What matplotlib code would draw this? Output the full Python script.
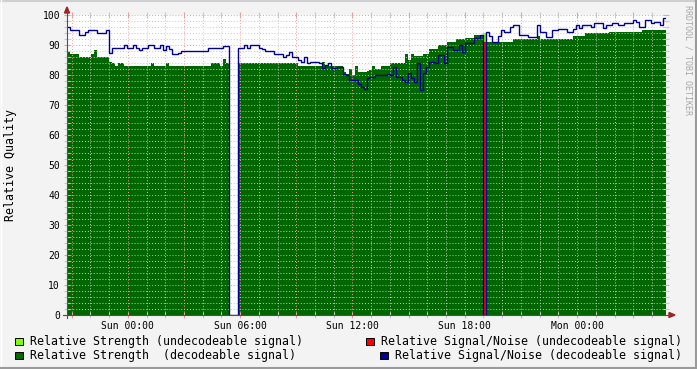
import numpy as np
import matplotlib
matplotlib.use("Agg")
import matplotlib.pyplot as plt
from matplotlib.patches import Rectangle, Polygon
from matplotlib.lines import Line2D

# samples every 0.16 h (9.6 min), first one Sat 20:45 (hours relative to Sun 00:00)
start_hour = -3.25
step_hours = 0.16

strength = [
    88, 87, 87, 87, 86, 86, 86, 86, 87, 88.5,
    86, 86, 86, 86, 84.5, 84, 83, 84, 84, 83,
    83, 83, 83, 83, 83, 83, 83, 83, 84, 83,
    83, 83, 83, 84, 83, 83, 83, 83, 83, 83,
    83, 83, 83, 83, 83, 83, 83, 83, 84, 84,
    84, 83, 85.5, 84, 0, 0, 0, 84, 84, 84,
    84, 84, 84, 84, 84, 84, 84, 84, 84, 84,
    84, 84, 84, 84, 84, 84, 84, 83, 83, 83,
    83, 83, 83, 83, 83, 84.5, 83, 83, 83, 83,
    83, 83, 81, 80.5, 82, 80, 83, 81, 81, 81,
    81.5, 81.7, 83, 82, 82, 83, 83, 83, 84, 84,
    84, 84, 84, 87, 85, 87, 86.5, 86.5, 86.5, 87,
    87, 88.6, 88.6, 88.6, 90, 90, 90, 91, 91, 91,
    92, 92, 92, 92.5, 92.5, 92.5, 93.5, 93.5, 93.5, 93.5,
    91, 91, 90.6, 90.6, 91, 91, 91, 91, 91, 92,
    92, 92, 92, 92, 92, 92, 92, 93, 92, 92,
    92, 92, 92, 92, 92, 92, 92, 92, 92, 93,
    93, 93, 93, 94, 94, 94, 94, 94, 94, 94,
    94, 94.5, 94.5, 94.5, 94.5, 94.5, 94.5, 94.5, 94.5, 94.5,
    94.5, 94.5, 95, 95, 95, 95, 95, 95, 95, 95,
]

snr = [
    96, 95, 95, 95, 93.5, 93.5, 94.5, 95, 95, 95,
    94, 94, 94, 95, 87.5, 89, 89, 89, 89, 90,
    89, 89, 90, 89, 88.5, 89, 89, 90, 90, 89,
    89, 90, 88.5, 89.7, 88.6, 87, 87, 87.4, 88, 88,
    88, 88, 88, 88, 88, 88, 88, 89, 89, 89,
    89, 89, 89.8, 89.8, 0, 0, 0, 89, 89, 90,
    89, 90, 90, 90, 89, 88.7, 88, 88, 88, 87,
    87, 87, 86, 86.7, 87.8, 86, 86, 85, 84.5, 86,
    84, 84.2, 84.2, 84.2, 84, 82.5, 83.5, 84, 82.5, 82.5,
    82.8, 82.8, 80.5, 80, 78.5, 78.3, 78.3, 77, 76, 75.5,
    79, 79.4, 79.4, 80, 80, 80, 80, 80.5, 80, 82.8,
    79.4, 79.4, 78.5, 77.8, 80.6, 79, 77.8, 84, 75, 80.6,
    82.8, 84.4, 84.4, 84, 86.7, 86.7, 84, 89.4, 89.4, 88.3,
    88.3, 90, 87.8, 90.6, 90.6, 90.6, 92.2, 92.2, 93.3, 0,
    94.4, 93, 91, 91, 93, 95, 94.5, 94.5, 96, 96.7,
    96.7, 93.3, 93.3, 93.3, 92.8, 92.8, 92.8, 96.7, 94.5, 94.5,
    92.8, 92.8, 95, 95, 95.3, 95.3, 95.3, 94.4, 94.4, 95.5,
    96.7, 95.6, 96.7, 96.7, 96.7, 96.1, 97.2, 97.2, 97.2, 95.6,
    96.7, 96.7, 97.2, 97.2, 96.7, 96.7, 97.2, 97.2, 97.2, 98.3,
    97.8, 96.1, 96.1, 98.3, 98.3, 97.2, 97.8, 97.8, 96.7, 98.9,
]

# the one undecodeable sample
weak_hours = [18.99]
weak_strength = [94]
weak_snr = [91]

tick_hours = [0, 6, 12, 18, 24]
tick_labels = ['Sun 00:00', 'Sun 06:00', 'Sun 12:00', 'Sun 18:00', 'Mon 00:00']

W, H = 697, 369
MONO = 'DejaVu Sans Mono'
C_STRONG = '#006600'
C_WEAK = '#80ff00'
C_SNR = '#000090'
C_SNR_WEAK = '#ff0000'
C_MAJOR = '#e8a0a0'
C_MINOR = '#c8c8c8'


def fx(px):
    return px / W


def fy(py):
    return 1 - py / H


fig = plt.figure(figsize=(W / 100, H / 100), dpi=100, facecolor='#f3f3f3')
ax = fig.add_axes([fx(67), fy(315), (666 - 67) / W, 300 / H])
ax.set_facecolor('white')

edges = start_hour + step_hours * np.arange(len(strength) + 1)
end_hour = edges[-1]

ax.stairs(strength, edges, fill=True, color=C_STRONG, baseline=0, lw=0, zorder=2)
ax.bar(weak_hours, weak_strength, width=step_hours, align='edge',
       color=C_WEAK, lw=0, zorder=2)
ax.bar([h + step_hours / 2 for h in weak_hours], weak_snr, width=0.1,
       color=C_SNR_WEAK, lw=0, zorder=3)
ax.stairs(snr, edges, baseline=None, color=C_SNR, lw=1.0, zorder=5)

ax.set_xlim(start_hour, end_hour)
ax.set_ylim(0, 100)

major_x = np.arange(-3, 29, 3)
ax.set_xticks(major_x)
ax.set_xticklabels([tick_labels[tick_hours.index(h)] if h in tick_hours else ''
                    for h in major_x])
ax.set_xticks(np.arange(-3, 29, 1), minor=True)
ax.set_yticks(np.arange(0, 101, 10))
ax.set_yticks(np.arange(0, 101, 2), minor=True)

for lab in ax.get_xticklabels() + ax.get_yticklabels():
    lab.set_family(MONO)
    lab.set_fontsize(7)

ax.grid(True, which='minor', color=C_MINOR, lw=0.7, linestyle=(0, (1, 2)), zorder=4)
ax.grid(True, which='major', color=C_MAJOR, lw=0.7, linestyle=(0, (1, 2)), zorder=4)
ax.set_axisbelow(False)

ax.tick_params(which='both', direction='inout', top=True, right=True,
               labeltop=False, labelright=False)
ax.tick_params(which='major', length=4, width=0.8, color=C_MAJOR, pad=3)
ax.tick_params(which='minor', length=4, width=0.8, color=C_MINOR)
ax.tick_params(axis='x', which='major', pad=2)

for s in ax.spines.values():
    s.set_visible(False)

# axes with arrows, rrdtool style
fig.add_artist(Line2D([fx(67), fx(67)], [fy(318), fy(10)], color='#505050', lw=0.8))
fig.add_artist(Line2D([fx(63), fx(670)], [fy(315), fy(315)], color='#505050', lw=0.8))
fig.add_artist(Polygon([(fx(64.5), fy(13)), (fx(69.5), fy(13)), (fx(67), fy(7))],
                       closed=True, transform=fig.transFigure, color='#a02020'))
fig.add_artist(Polygon([(fx(669), fy(312.5)), (fx(669), fy(317.5)), (fx(675), fy(315))],
                       closed=True, transform=fig.transFigure, color='#a02020'))

fig.text(fx(11), fy(165), 'Relative Quality', rotation=90, ha='center', va='center',
         family=MONO, fontsize=8.4)
fig.text(fx(688), fy(60), 'RRDTOOL / TOBI OETIKER', rotation=-90, ha='center',
         va='center', family=MONO, fontsize=6, color='#a8a8a8')

legend = [
    (15, 341, C_WEAK, 'Relative Strength (undecodeable signal)'),
    (15, 355, C_STRONG, 'Relative Strength  (decodeable signal)'),
    (366, 341, C_SNR_WEAK, 'Relative Signal/Noise (undecodeable signal)'),
    (380, 355, C_SNR, 'Relative Signal/Noise (decodeable signal)'),
]
for x0, yc, col, txt in legend:
    fig.add_artist(Rectangle((fx(x0), fy(yc + 4)), 7.5 / W, 7.5 / H, transform=fig.transFigure,
                             facecolor=col, edgecolor='black', lw=0.7))
    fig.text(fx(x0 + 15), fy(yc), txt, ha='left', va='center', family=MONO, fontsize=8.4)

# frame shading
fig.add_artist(Line2D([0, 1], [fy(1), fy(1)], color='#cfcfcf', lw=1.5))
fig.add_artist(Line2D([fx(1), fx(1)], [0, 1], color='#ffffff', lw=1))
fig.add_artist(Line2D([0, 1], [fy(368), fy(368)], color='#9a9a9a', lw=1.5))
fig.add_artist(Line2D([fx(696), fx(696)], [0, 1], color='#9a9a9a', lw=1.5))

fig.savefig('out.png', dpi=100, facecolor=fig.get_facecolor())
